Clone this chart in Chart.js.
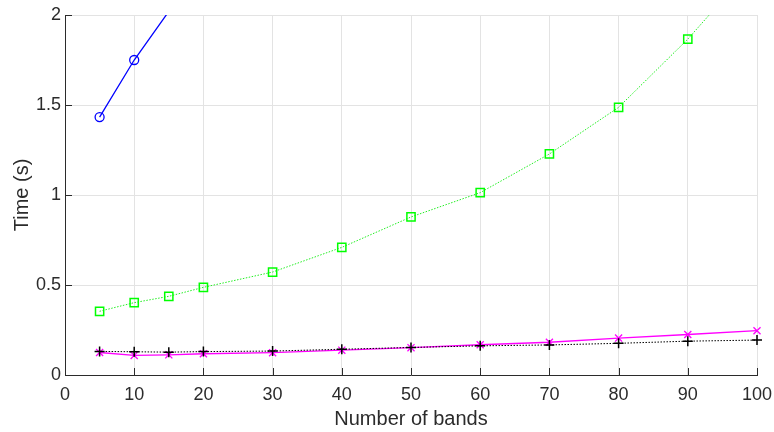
<!DOCTYPE html>
<html>
<head>
<meta charset="utf-8">
<script src="https://cdn.jsdelivr.net/npm/chart.js@4"></script>
<style>
html,body{margin:0;padding:0;background:#fff;}
#c{display:block;}
</style>
</head>
<body>
<canvas id="c" width="774" height="432"></canvas>
<script>
const bandsBlue = [5, 10, 15];
const timeBlue = [1.433, 1.75, 2.02];
const bands = [5, 10, 15, 20, 30, 40, 50, 60, 70, 80, 90, 100];
const timeGreen = [0.354, 0.402, 0.437, 0.487, 0.572, 0.709, 0.878, 1.013, 1.228, 1.487, 1.866, 2.30];
const timeBlack = [0.131, 0.129, 0.127, 0.130, 0.133, 0.143, 0.153, 0.162, 0.167, 0.176, 0.188, 0.194];
const timeMagenta = [0.125, 0.109, 0.112, 0.118, 0.124, 0.138, 0.152, 0.168, 0.182, 0.205, 0.225, 0.246];
const xTicks = [0, 10, 20, 30, 40, 50, 60, 70, 80, 90, 100];
const yTicks = [0, 0.5, 1, 1.5, 2];
const xTitle = 'Number of bands';
const yTitle = 'Time (s)';

const pts = (xs, ys) => xs.map((x, i) => ({x: x, y: ys[i]}));
const TEXT = '#2b2b2b';
const FONT = "'Liberation Sans', Arial, Helvetica, sans-serif";

const inwardTicks = {
  id: 'inwardTicks',
  afterDatasetsDraw(chart) {
    const ctx = chart.ctx;
    const xs = chart.scales.x, ys = chart.scales.y;
    const a = chart.chartArea;
    ctx.save();
    ctx.strokeStyle = TEXT;
    ctx.lineWidth = 1;
    ctx.beginPath();
    xTicks.forEach(v => {
      const p = Math.round(xs.getPixelForValue(v)) + 0.5;
      ctx.moveTo(p, a.bottom);
      ctx.lineTo(p, a.bottom - 7);
    });
    yTicks.forEach(v => {
      const p = Math.round(ys.getPixelForValue(v)) + 0.5;
      ctx.moveTo(a.left, p);
      ctx.lineTo(a.left + 7, p);
    });
    ctx.stroke();
    ctx.restore();
  }
};

new Chart(document.getElementById('c'), {
  type: 'line',
  data: {
    datasets: [
      {
        data: pts(bandsBlue, timeBlue),
        borderColor: '#0000ff', backgroundColor: 'rgba(0,0,0,0)',
        borderWidth: 1.3, pointStyle: 'circle', pointRadius: [4.5, 4.5, 0],
        pointBorderWidth: 1.3, pointBorderColor: '#0000ff'
      },
      {
        data: pts(bands, timeGreen),
        borderColor: '#22ee22', backgroundColor: 'rgba(0,0,0,0)',
        borderWidth: 1, borderDash: [1.5, 1.5], pointStyle: 'rect', pointRadius: 5.8,
        pointBorderWidth: 1.5, pointBorderColor: '#00ff00'
      },
      {
        data: pts(bands, timeBlack),
        borderColor: '#000000', backgroundColor: 'rgba(0,0,0,0)',
        borderWidth: 1, borderDash: [1.5, 1.5], pointStyle: 'cross', pointRadius: 5,
        pointBorderWidth: 1.5, pointBorderColor: '#000000', clip: false
      },
      {
        data: pts(bands, timeMagenta),
        borderColor: '#ff00ff', backgroundColor: 'rgba(0,0,0,0)',
        borderWidth: 1.3, pointStyle: 'crossRot', pointRadius: 5,
        pointBorderWidth: 1.3, pointBorderColor: '#ff00ff', clip: false
      }
    ]
  },
  options: {
    responsive: false,
    animation: false,
    devicePixelRatio: 1,
    layout: {padding: {left: 0, right: 17, top: 15, bottom: 0}},
    plugins: {legend: {display: false}, tooltip: {enabled: false}},
    elements: {line: {tension: 0}},
    scales: {
      x: {
        type: 'linear', min: 0, max: 100,
        afterBuildTicks: s => { s.ticks = xTicks.map(v => ({value: v})); },
        afterFit: s => { s.height = 57; s.paddingLeft = 0; s.paddingRight = 0; },
        grid: {color: '#e3e3e3', lineWidth: 1, drawTicks: false},
        border: {color: TEXT, width: 1},
        ticks: {color: TEXT, padding: 9, maxRotation: 0, font: {family: FONT, size: 18}},
        title: {display: true, text: xTitle, color: TEXT, font: {family: FONT, size: 20}, padding: {top: 0, bottom: 1}}
      },
      y: {
        type: 'linear', min: 0, max: 2,
        afterBuildTicks: s => { s.ticks = yTicks.map(v => ({value: v})); },
        afterFit: s => { s.width = 65; s.paddingTop = 0; s.paddingBottom = 0; },
        grid: {color: '#e3e3e3', lineWidth: 1, drawTicks: false},
        border: {color: TEXT, width: 1},
        ticks: {color: TEXT, padding: 4, font: {family: FONT, size: 18}, callback: v => String(v)},
        title: {display: true, text: yTitle, color: TEXT, font: {family: FONT, size: 20}, padding: {top: 10, bottom: 0}}
      }
    }
  },
  plugins: [inwardTicks]
});
</script>
</body>
</html>
